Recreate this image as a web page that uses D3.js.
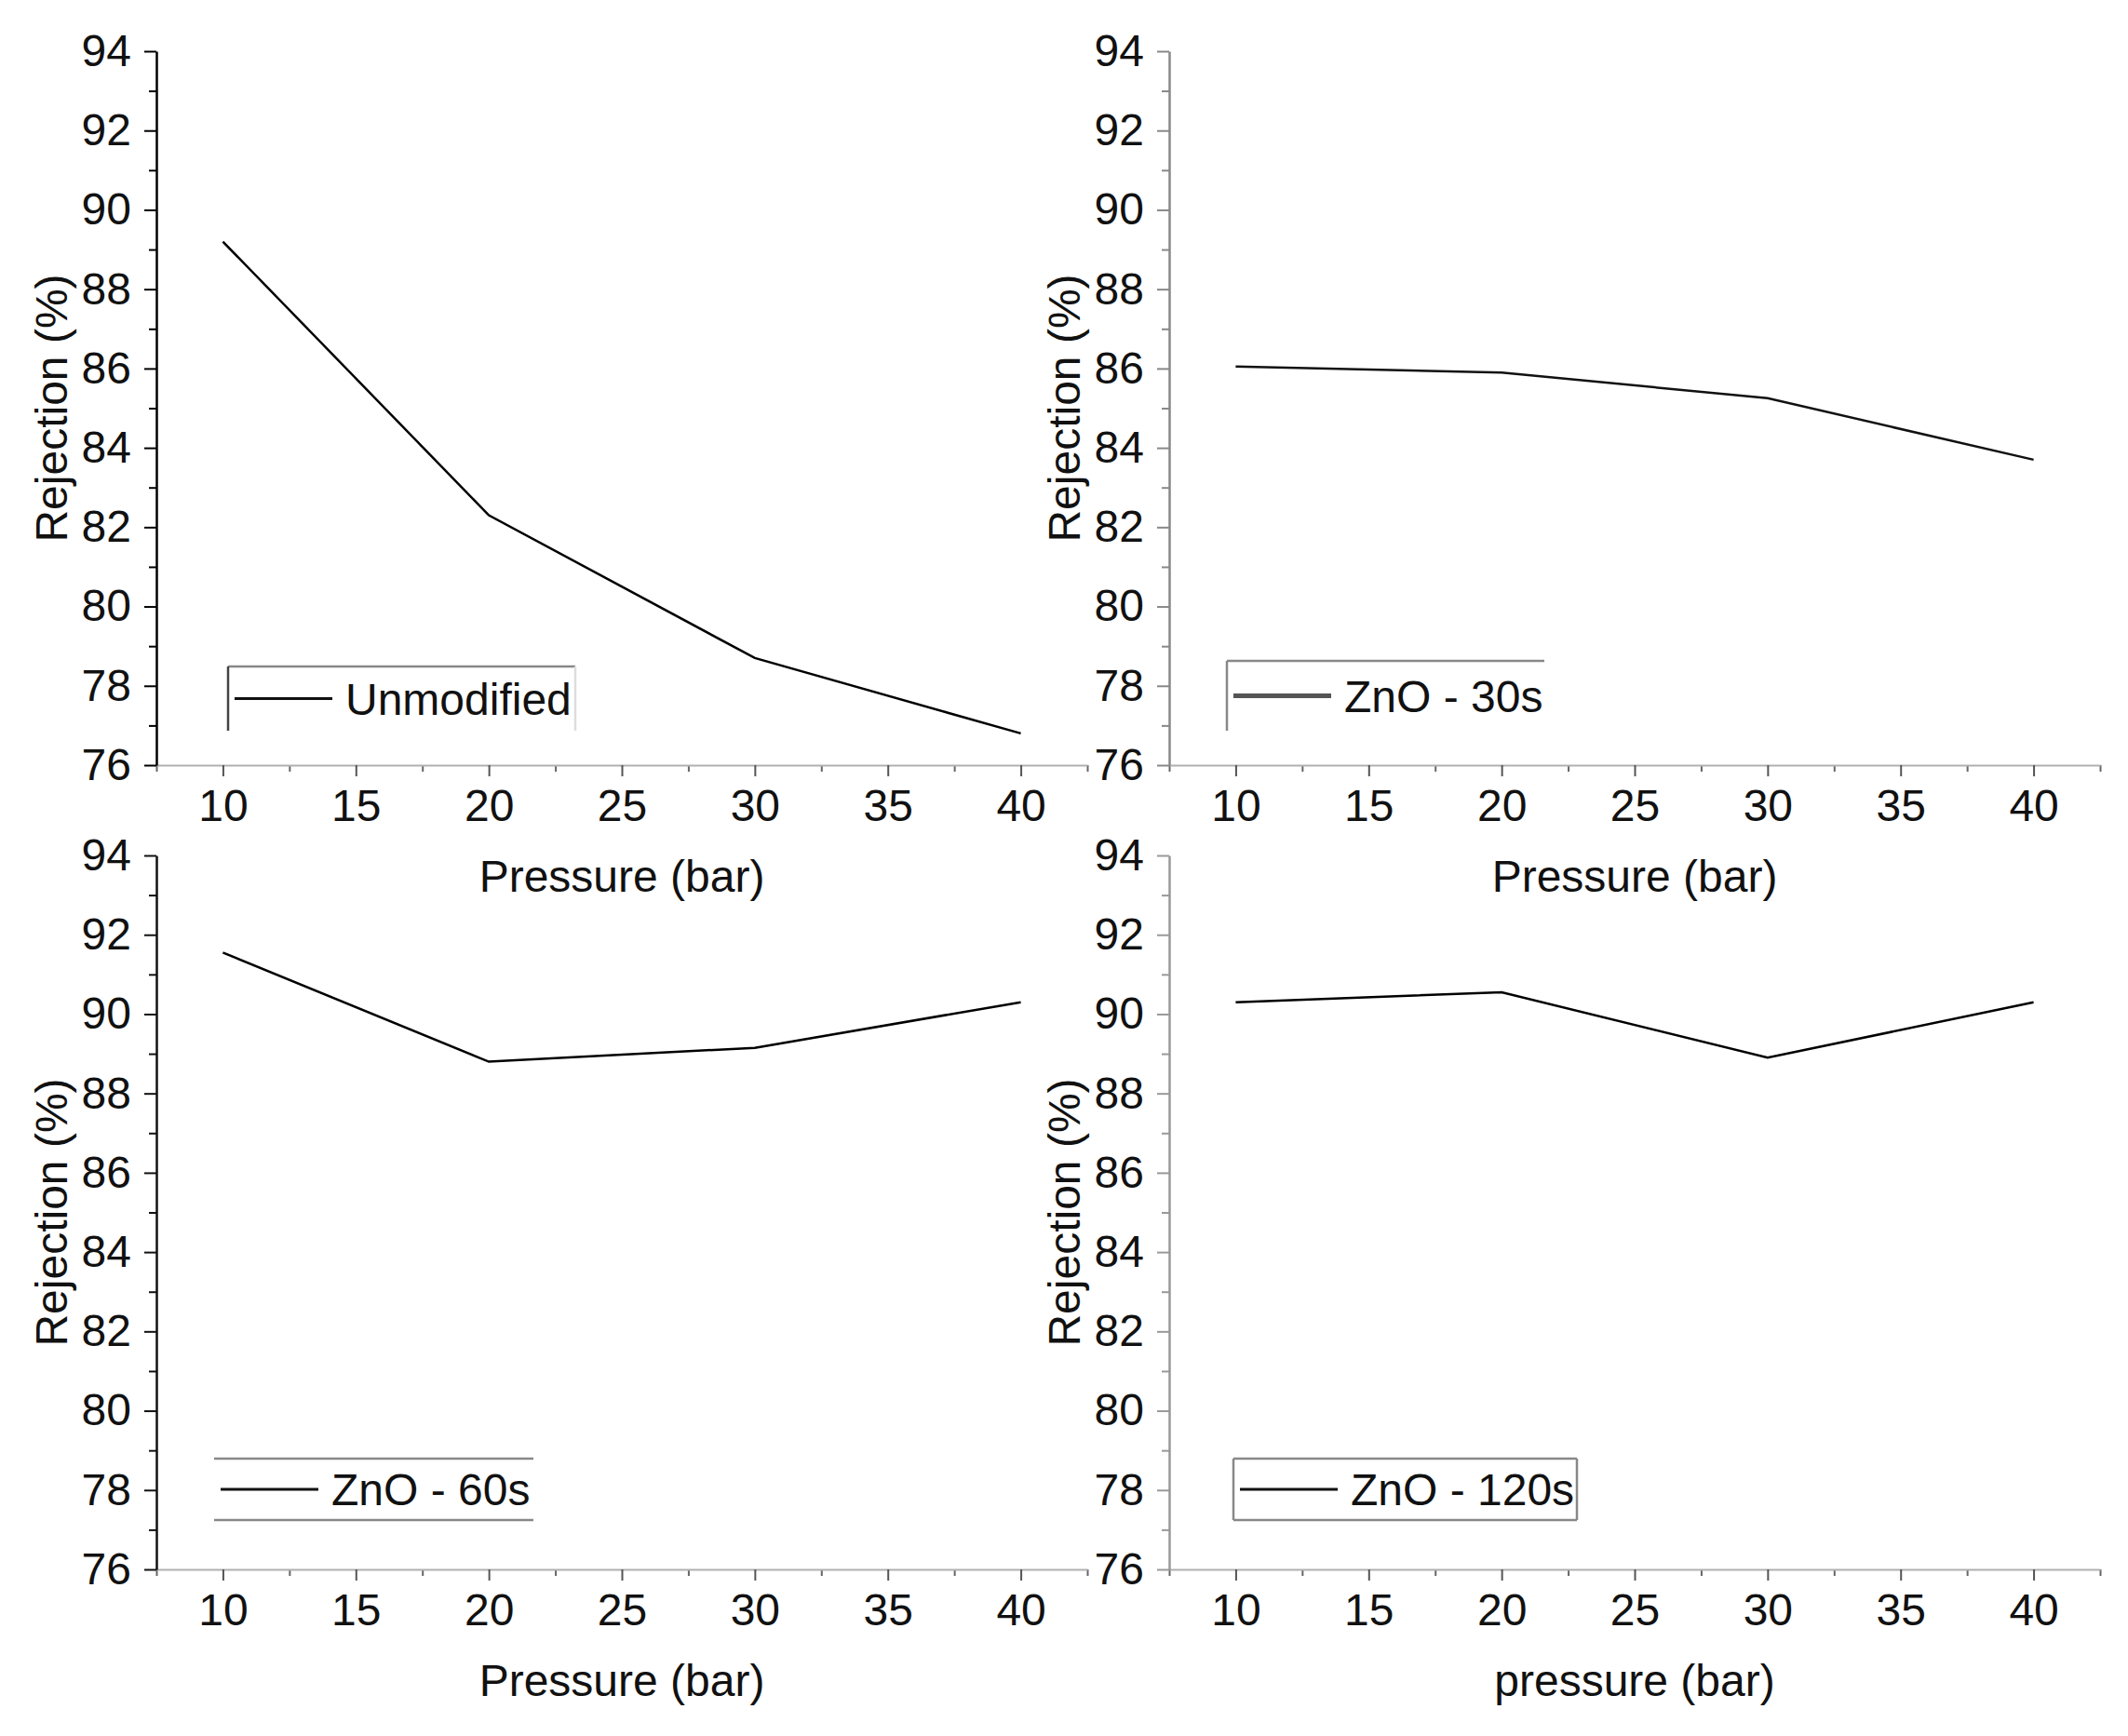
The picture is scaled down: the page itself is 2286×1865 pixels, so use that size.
<!DOCTYPE html>
<html>
<head>
<meta charset="utf-8">
<script src="https://cdnjs.cloudflare.com/ajax/libs/d3/7.8.5/d3.min.js"></script>
<style>
    body { margin: 0; background: #fff; }
    text { font-family: 'Liberation Sans', Arial, sans-serif; fill: #111; }
</style>
</head>
<body>
<div id="chart"></div>
<script>
'use strict';

// values
var pressure = [10, 20, 30, 40];
var unmodified = [89.2, 82.3, 78.7, 76.8];
var zno30 = [86.05, 85.9, 85.25, 83.7];
var zno60 = [91.55, 88.8, 89.15, 90.3];
var zno120 = [90.3, 90.55, 88.9, 90.3];

var seriesNames = ['Unmodified', 'ZnO - 30s', 'ZnO - 60s', 'ZnO - 120s'];
var xTitles = ['Pressure (bar)', 'Pressure (bar)', 'Pressure (bar)', 'pressure (bar)'];
var yTitle = 'Rejection (%)';
var xTicks = [10, 15, 20, 25, 30, 35, 40];
var xMinorTicks = [7.5, 12.5, 17.5, 22.5, 27.5, 32.5, 37.5, 42.5];
var yTicks = [76, 78, 80, 82, 84, 86, 88, 90, 92, 94];
var yMinorTicks = [77, 79, 81, 83, 85, 87, 89, 91, 93];

var allSeries = [unmodified, zno30, zno60, zno120];

var width = 2286,
    height = 1865;

// panel boxes and styling
var panels = [
    { left: 168, top: 55, yAxisColor: '#000', lineColor: '#000', sampleColor: '#111', sampleWidth: 3,
      legend: { x: 245, y: 716, w: 373, h: 69, sides: ['top', 'left', 'right'] } },
    { left: 1256, top: 55, yAxisColor: '#888', lineColor: '#111', sampleColor: '#555', sampleWidth: 5,
      legend: { x: 1318, y: 710, w: 341, h: 75, sides: ['top', 'left'] } },
    { left: 168, top: 919, yAxisColor: '#111', lineColor: '#000', sampleColor: '#111', sampleWidth: 3,
      legend: { x: 230, y: 1567, w: 343, h: 66, sides: ['top', 'bottom'] } },
    { left: 1256, top: 919, yAxisColor: '#999', lineColor: '#000', sampleColor: '#111', sampleWidth: 3,
      legend: { x: 1325, y: 1567, w: 369, h: 66, sides: ['top', 'bottom', 'left', 'right'] } }
];
var plotW = 1000,
    plotH = 767;

var svg = d3.select('#chart').append('svg')
    .attr('width', width)
    .attr('height', height)
    .attr('viewBox', '0 0 ' + width + ' ' + height);

svg.append('rect')
    .attr('width', width)
    .attr('height', height)
    .attr('fill', '#fff');

var x = d3.scaleLinear().domain([7.5, 42.5]).range([0, plotW]);
var y = d3.scaleLinear().domain([76, 94]).range([plotH, 0]);

panels.forEach(function(p, i) {
    var g = svg.append('g')
        .attr('transform', 'translate(' + p.left + ',' + p.top + ')');

    // x axis: light line, ticks pointing down
    g.append('g')
        .attr('transform', 'translate(0,' + plotH + ')')
        .call(d3.axisBottom(x).tickValues(xMinorTicks).tickSize(7).tickFormat(''))
        .call(function(a) {
            a.select('.domain').remove();
            a.selectAll('line').attr('stroke', '#666').attr('stroke-width', 2);
        });

    var xAxis = g.append('g')
        .attr('transform', 'translate(0,' + plotH + ')')
        .call(d3.axisBottom(x).tickValues(xTicks).tickSize(12).tickSizeOuter(0).tickPadding(14));
    xAxis.select('.domain').attr('stroke', '#b0b0b0').attr('stroke-width', 2);
    xAxis.selectAll('.tick line').attr('stroke', '#555').attr('stroke-width', 2);
    xAxis.selectAll('text')
        .attr('font-size', '48px')
        .attr('fill', '#111');

    // y axis: outward ticks
    g.append('g')
        .call(d3.axisLeft(y).tickValues(yMinorTicks).tickSize(8).tickFormat(''))
        .call(function(a) {
            a.select('.domain').remove();
            a.selectAll('line').attr('stroke', p.yAxisColor).attr('stroke-width', 2);
        });

    var yAxis = g.append('g')
        .call(d3.axisLeft(y).tickValues(yTicks).tickSize(13).tickSizeOuter(0).tickPadding(14));
    yAxis.select('.domain').attr('stroke', p.yAxisColor).attr('stroke-width', 2.5);
    yAxis.selectAll('.tick line').attr('stroke', p.yAxisColor).attr('stroke-width', 2);
    yAxis.selectAll('text')
        .attr('font-size', '48px')
        .attr('fill', '#111');

    // data line
    var line = d3.line()
        .x(function(d, j) { return x(pressure[j]); })
        .y(function(d) { return y(d); });

    g.append('path')
        .datum(allSeries[i])
        .attr('d', line)
        .attr('fill', 'none')
        .attr('stroke', p.lineColor)
        .attr('stroke-width', 2.5);

    // titles
    g.append('text')
        .attr('x', plotW / 2)
        .attr('y', plotH + 136)
        .attr('text-anchor', 'middle')
        .attr('font-size', '48px')
        .text(xTitles[i]);

    g.append('text')
        .attr('transform', 'translate(-96,' + (plotH / 2) + ') rotate(-90)')
        .attr('text-anchor', 'middle')
        .attr('font-size', '48px')
        .text(yTitle);

    // legend frame (partial frames as in the source figure)
    var lg = p.legend;
    var frame = svg.append('g').attr('class', 'legend');
    var sides = {
        top: [lg.x, lg.y, lg.x + lg.w, lg.y],
        bottom: [lg.x, lg.y + lg.h, lg.x + lg.w, lg.y + lg.h],
        left: [lg.x, lg.y, lg.x, lg.y + lg.h],
        right: [lg.x + lg.w, lg.y, lg.x + lg.w, lg.y + lg.h]
    };
    lg.sides.forEach(function(s) {
        var c = sides[s];
        frame.append('line')
            .attr('x1', c[0]).attr('y1', c[1])
            .attr('x2', c[2]).attr('y2', c[3])
            .attr('stroke', (i === 0 && s === 'left') ? '#444' : (s === 'right' && i === 0 ? '#ddd' : '#888'))
            .attr('stroke-width', 2.5);
    });

    var midY = lg.y + lg.h / 2;
    frame.append('line')
        .attr('x1', lg.x + 7)
        .attr('x2', lg.x + 112)
        .attr('y1', midY)
        .attr('y2', midY)
        .attr('stroke', p.sampleColor)
        .attr('stroke-width', p.sampleWidth);

    frame.append('text')
        .attr('x', lg.x + 126)
        .attr('y', midY + 17)
        .attr('font-size', '48px')
        .text(seriesNames[i]);
});
</script>
</body>
</html>
